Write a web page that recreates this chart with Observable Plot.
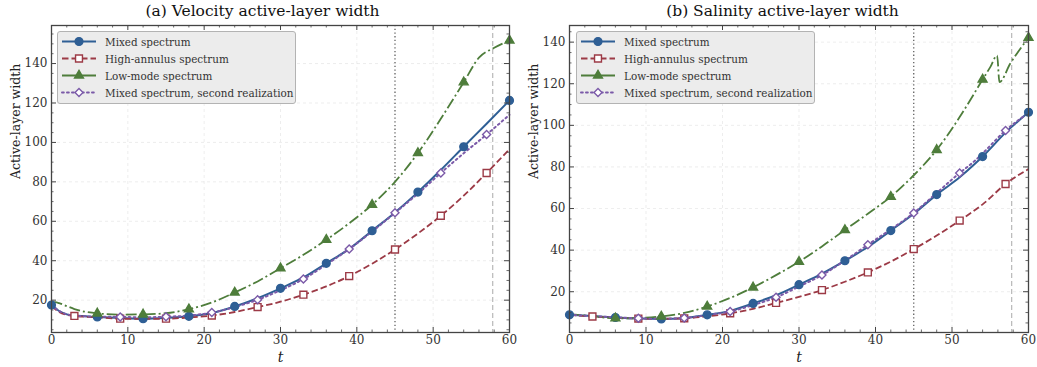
<!DOCTYPE html>
<html><head><meta charset="utf-8">
<script src="https://cdn.jsdelivr.net/npm/d3@7"></script>
<script src="https://cdn.jsdelivr.net/npm/@observablehq/plot@0.6"></script>
<style>
body{margin:0;background:#fff;font-family:"DejaVu Serif",serif;}
#wrap{position:relative;width:1037px;height:367px;overflow:hidden;}
.panel{position:absolute;top:0;height:367px;}
.title{position:absolute;top:2px;font-size:15.5px;color:#111;white-space:nowrap;transform:translateX(-50%);}
.legend{position:absolute;top:31px;width:239px;height:73px;background:#ececec;border:1px solid #b3b3b3;border-radius:3px;box-sizing:border-box;padding-top:1px;}
.row{display:flex;align-items:center;height:17px;}
.row svg{margin-left:3px;margin-right:8px;flex-shrink:0;}
.row span{font-size:10.4px;color:#333;white-space:nowrap;}
</style></head><body><div id="wrap"></div>
<script>
// ---------- data ----------
const velT = [0,1,2,3,6,9,12,15,18,21,24,27,30,33,36,39,42,45,48,51,54,57,60];
const velMixed  = [17.5,14.5,12.8,12.2,11.5,11.0,10.6,11.0,11.8,13.5,16.8,21.0,26.0,31.5,38.7,46.0,55.2,64.5,74.8,86.0,97.8,109.5,121.3];
const velHigh   = [17.0,14.0,12.5,12.0,11.3,10.6,10.5,10.6,11.2,12.2,14.0,16.5,19.2,22.8,27.0,32.2,38.5,45.7,53.8,62.8,73.0,84.5,96.6];
const velSecond = [17.5,14.5,12.8,12.2,11.6,11.5,11.3,11.6,12.2,13.7,16.5,20.2,25.0,30.7,38.0,46.0,54.8,64.3,74.0,84.5,94.5,104.0,114.0];
const velLowT = [0,0.5,1,2,3,6,9,12,15,18,21,24,27,30,33,36,39,42,45,48,51,54,56,58,60];
const velLow  = [18.5,19.0,18.5,17.0,15.5,13.3,12.7,12.8,13.4,15.4,18.8,23.9,29.5,36.2,43.0,50.6,59.0,68.4,80.0,94.6,112.0,130.5,143.0,148.0,151.7];

const salT = [0,3,6,9,12,15,18,21,24,27,30,33,36,39,42,45,48,51,53,54,57,60];
const salMixed  = [8.9,8.3,7.6,7.1,6.9,7.3,8.9,10.8,14.4,18.3,23.4,28.7,34.9,41.5,49.4,57.5,66.7,75.0,81.5,85.0,96.5,106.3];
const salHigh   = [8.8,8.1,7.5,7.1,7.0,7.2,8.2,9.6,11.8,14.6,17.5,20.8,24.8,29.3,34.5,40.5,47.0,54.2,59.3,62.0,71.8,79.0];
const salSecond = [8.9,8.3,7.7,7.2,7.0,7.4,8.8,10.5,13.6,17.3,22.5,28.0,35.0,42.6,50.0,57.9,67.5,77.1,83.0,86.5,97.5,106.0];
const salLowT = [0,3,6,9,12,15,18,21,24,27,30,33,36,39,42,45,48,51,54,55,55.9,56.2,57.6,60];
const salLow  = [9.2,8.3,7.2,7.4,8.1,9.8,12.9,17.0,22.1,28.0,34.4,41.8,49.7,57.5,65.7,76.0,88.2,104.0,122.0,128.0,133.6,120.8,129.6,142.1];

const seriesNames = ["Mixed spectrum","High-annulus spectrum","Low-mode spectrum","Mixed spectrum, second realization"];
const markerTimes = [[0,6,12,18,24,30,36,42,48,54,60],[3,9,15,21,27,33,39,45,51,57],[6,12,18,24,30,36,42,48,54,60],[9,15,21,27,33,39,45,51,57]];
const panelTitles = ["(a) Velocity active-layer width","(b) Salinity active-layer width"];
const xTicks = [0,10,20,30,40,50,60];
const yTicksA = [20,40,60,80,100,120,140];
const yTicksB = [20,40,60,80,100,120,140];
const markerLines = [45, 57.8];

// ---------- styles ----------
const FONT = "DejaVu Serif";
const styles = [
  {color:"#2f5f95", dash:null, width:2, symbol:"circle", r:3.9, fill:"#2f5f95"},
  {color:"#9c3a46", dash:"6.5,3", width:1.8, symbol:"square", r:3.9, fill:"#fff"},
  {color:"#4e7d3b", dash:"11,3,2,3", width:1.8, symbol:"triangle", r:3.3, fill:"#4e7d3b"},
  {color:"#7b5aa8", dash:"1.8,3.2", width:2, symbol:"diamond2", r:3.6, fill:"#fff"}
];

function rows(T, V){ return T.map((t,i)=>({t, v:V[i]})); }

function makePanel(opts){
  const W = opts.width, H = 367, mL = 51, mR = opts.mR, mT = 25, mB = 35;
  const pw = W - mL - mR, ph = H - mT - mB;
  const marks = [
    Plot.gridX(xTicks, {stroke:"#d4d4d4", strokeOpacity:0.6, strokeDasharray:"3,3", strokeWidth:0.7}),
    Plot.gridY(opts.yTicks, {stroke:"#d4d4d4", strokeOpacity:0.6, strokeDasharray:"3,3", strokeWidth:0.7}),
    Plot.ruleX([markerLines[0]], {stroke:"#555", strokeWidth:1.2, strokeDasharray:"1.3,2.4"}),
    Plot.ruleX([markerLines[1]], {stroke:"#b8b8b8", strokeWidth:1.2, strokeDasharray:"5,3"})
  ];
  opts.series.forEach((s,k)=>{
    const st = styles[k];
    const d = rows(s.T, s.V);
    marks.push(Plot.line(d, {x:"t", y:"v", curve:"monotone-x", stroke:st.color, strokeWidth:st.width, strokeDasharray:st.dash, strokeLinecap: k===3?"round":"butt"}));
  });
  opts.series.forEach((s,k)=>{
    const st = styles[k];
    const d = rows(s.T, s.V).filter(p=>markerTimes[k].includes(p.t));
    marks.push(Plot.dot(d, {x:"t", y:"v", symbol:st.symbol, r:st.r, fill:st.fill, stroke:st.color, strokeWidth:1.4}));
  });
  const xMinor = d3.range(0,61,2).filter(v=>!xTicks.includes(v));
  const yMinor = d3.range(0,161,5).filter(v=>v>opts.yDomain[0] && v<opts.yDomain[1] && !opts.yTicks.includes(v));
  const tk = "#444";
  marks.push(
    Plot.frame({stroke:"#444", strokeWidth:1.3}),
    Plot.tickX(xTicks, {x:d=>d, insetTop:ph-5, stroke:tk}),
    Plot.tickX(xTicks, {x:d=>d, insetBottom:ph-5, stroke:tk}),
    Plot.tickX(xMinor, {x:d=>d, insetTop:ph-2.5, stroke:tk, strokeWidth:0.8}),
    Plot.tickX(xMinor, {x:d=>d, insetBottom:ph-2.5, stroke:tk, strokeWidth:0.8}),
    Plot.tickY(opts.yTicks, {y:d=>d, insetRight:pw-5, stroke:tk}),
    Plot.tickY(opts.yTicks, {y:d=>d, insetLeft:pw-5, stroke:tk}),
    Plot.tickY(yMinor, {y:d=>d, insetRight:pw-2.5, stroke:tk, strokeWidth:0.8}),
    Plot.tickY(yMinor, {y:d=>d, insetLeft:pw-2.5, stroke:tk, strokeWidth:0.8}),
    Plot.axisX(xTicks, {tickSize:0, tickPadding:3, label:null, fontSize:12, fill:"#333"}),
    Plot.axisY(opts.yTicks, {tickSize:0, tickPadding:4, label:null, fontSize:12, fill:"#333"}),
    Plot.text(["t"], {frameAnchor:"bottom", dy:25, lineAnchor:"middle", fontSize:14, fontStyle:"italic", fill:"#222"}),
    Plot.text(["Active-layer width"], {frameAnchor:"left", dx:-36, rotate:-90, fontSize:12.5, fill:"#222"})
  );
  return Plot.plot({
    width:W, height:H, marginLeft:mL, marginRight:mR, marginTop:mT, marginBottom:mB,
    x:{domain:[0,60]}, y:{domain:opts.yDomain},
    style:{fontFamily:FONT, fontSize:"12px", background:"transparent", overflow:"visible"},
    marks
  });
}

function makeLegend(){
  const lg = document.createElement("div");
  lg.className = "legend";
  seriesNames.forEach((name,k)=>{
    const st = styles[k];
    const row = document.createElement("div"); row.className="row";
    const svg = d3.create("svg").attr("width",36).attr("height",17);
    svg.append("line").attr("x1",1).attr("x2",35).attr("y1",8.5).attr("y2",8.5)
      .attr("stroke",st.color).attr("stroke-width",st.width)
      .attr("stroke-dasharray", k===2 ? null : st.dash).attr("stroke-linecap", k===3?"round":"butt");
    const symMap = {circle:d3.symbolCircle, square:d3.symbolSquare, triangle:d3.symbolTriangle, diamond2:d3.symbolDiamond2};
    svg.append("path").attr("transform","translate(18,8.5)")
      .attr("d", d3.symbol(symMap[st.symbol], Math.PI*st.r*st.r)())
      .attr("fill",st.fill).attr("stroke",st.color).attr("stroke-width",1.4);
    row.appendChild(svg.node());
    const sp = document.createElement("span"); sp.textContent = name;
    row.appendChild(sp);
    lg.appendChild(row);
  });
  return lg;
}

const wrap = document.getElementById("wrap");
const panels = [
  {left:0, width:518, mR:9, yDomain:[3.6,159.3], yTicks:yTicksA, titleX:262.5,
   series:[{T:velT,V:velMixed},{T:velT,V:velHigh},{T:velLowT,V:velLow},{T:velT,V:velSecond}]},
  {left:518, width:519, mR:9, yDomain:[0.4,148], yTicks:yTicksB, titleX:264.5,
   series:[{T:salT,V:salMixed},{T:salT,V:salHigh},{T:salLowT,V:salLow},{T:salT,V:salSecond}]}
];
panels.forEach((p,i)=>{
  const div = document.createElement("div");
  div.className = "panel";
  div.style.left = p.left + "px";
  div.style.width = p.width + "px";
  div.appendChild(makePanel(p));
  const t = document.createElement("div");
  t.className = "title"; t.textContent = panelTitles[i];
  t.style.left = p.titleX + "px";
  div.appendChild(t);
  const lg = makeLegend();
  lg.style.left = (i===0 ? 57 : 58) + "px";
  div.appendChild(lg);
  wrap.appendChild(div);
});
</script>
</body></html>
